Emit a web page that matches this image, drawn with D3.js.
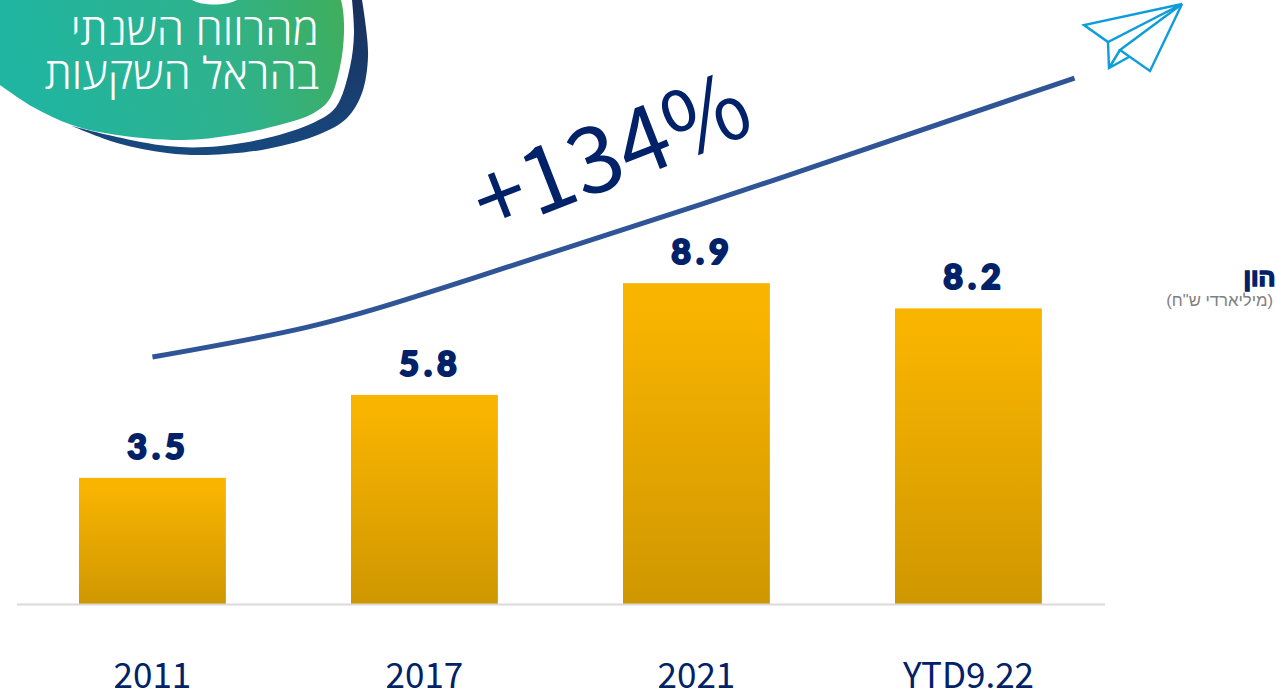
<!DOCTYPE html>
<html>
<head>
<meta charset="utf-8">
<script src="https://cdn.jsdelivr.net/npm/d3@7"></script>
<style>
	html, body { margin: 0; padding: 0; background: #fff; overflow: hidden; }
</style>
</head>
<body>
<div class="chart"></div>
<script>
var categories = ['2011', '2017', '2021', 'YTD9.22'];
var values = [3.5, 5.8, 8.9, 8.2];
var valueLabels = ['3.5', '5.8', '8.9', '8.2'];

// trend line: category position / value height
var trendPos = [0, 0.57, 1.18, 2.31, 3.39];
var trendVal = [6.85, 7.68, 9.04, 11.82, 14.59];

var titleLines = ['מהרווח השנתי', 'בהראל השקעות'];
var growthLabel = '+134%';
var sideTitle = 'הון';
var sideUnit = '(מיליארדי ש"ח)';

var navy = '#012169',
	lineBlue = '#2f5597',
	planeBlue = '#0d9ddb',
	width = 1276,
	height = 695;

var svg = d3.select('.chart').append('svg')
	.attr('width', width)
	.attr('height', height)
	.style('display', 'block');

var defs = svg.append('defs');
var barGrad = defs.append('linearGradient')
	.attr('id', 'barGrad').attr('x1', 0).attr('y1', 0).attr('x2', 0).attr('y2', 1);
barGrad.append('stop').attr('offset', '8%').attr('stop-color', '#f9b400');
barGrad.append('stop').attr('offset', '100%').attr('stop-color', '#cf9700');

var blobGrad = defs.append('linearGradient')
	.attr('id', 'blobGrad').attr('gradientUnits', 'userSpaceOnUse')
	.attr('x1', 40).attr('y1', 110).attr('x2', 345).attr('y2', 10);
blobGrad.append('stop').attr('offset', '0%').attr('stop-color', '#20b5a0');
blobGrad.append('stop').attr('offset', '60%').attr('stop-color', '#2fb28c');
blobGrad.append('stop').attr('offset', '100%').attr('stop-color', '#3fae5c');

var shadowGrad = defs.append('linearGradient')
	.attr('id', 'shadowGrad').attr('x1', 0).attr('y1', 0).attr('x2', 0).attr('y2', 1);
shadowGrad.append('stop').attr('offset', '0%').attr('stop-color', '#1a2f5a');
shadowGrad.append('stop').attr('offset', '100%').attr('stop-color', '#17497f');

var x = d3.scaleBand().domain(categories).range([16.44, 1104.44]).paddingInner(0.46).paddingOuter(0.23);
var y = d3.scaleLinear().domain([0, 10]).range([604, 243.5]);

// Header blob, drawn as smooth outlines
var outline = d3.line().curve(d3.curveCatmullRom);
var shadowOuter = [[72, 126], [117, 143], [167, 153], [207, 155], [267, 149], [320, 134], [347, 118], [362, 93], [368, 57], [365, 20], [362, 0]];
var shadowInner = [[352, 0], [354, 33], [350, 67], [336, 107], [315, 122], [267, 138], [207, 147], [167, 146], [117, 137], [72, 126]];
var blobEdge = [[0, 85], [33, 107], [72, 125], [117, 135], [183, 140], [233, 135], [283, 124], [312, 114], [329, 100], [340, 67], [344, 33], [343, 10], [341, 0]];

svg.append('path')
	.attr('fill', 'url(#shadowGrad)')
	.attr('d', outline(shadowOuter) + 'L' + outline(shadowInner).slice(1) + 'Z');
svg.append('path')
	.attr('fill', 'url(#blobGrad)')
	.attr('d', outline(blobEdge) + 'L0,0Z');
svg.append('path')
	.attr('fill', '#fff')
	.attr('d', 'M192,0 C202,6 226,6 237,0 Z');

svg.selectAll('.title-line')
	.data(titleLines)
	.enter().append('text')
	.attr('class', 'title-line')
	.attr('x', 319)
	.attr('y', function(d, i) { return 45 + i * 44; })
	.attr('text-anchor', 'start')
	.attr('direction', 'rtl')
	.attr('font-family', '"Open Sans", "Liberation Sans", sans-serif')
	.attr('font-weight', 300)
	.attr('font-size', '44px')
	.attr('fill', '#fff')
	.text(function(d) { return d; });

// Bars
svg.selectAll('.bar')
	.data(values)
	.enter().append('rect')
	.attr('class', 'bar')
	.attr('x', function(d, i) { return x(categories[i]); })
	.attr('y', function(d) { return y(d); })
	.attr('width', x.bandwidth())
	.attr('height', function(d) { return y(0) - y(d); })
	.attr('fill', 'url(#barGrad)');

svg.selectAll('.value')
	.data(values)
	.enter().append('text')
	.attr('class', 'value')
	.attr('x', function(d, i) { return x(categories[i]) + x.bandwidth() / 2 + 6; })
	.attr('y', function(d) { return y(d) - 19; })
	.attr('text-anchor', 'middle')
	.attr('font-family', 'Lato, sans-serif')
	.attr('font-weight', 900)
	.attr('font-size', '34px')
	.attr('letter-spacing', '5px')
	.attr('fill', navy)
	.attr('stroke', navy)
	.attr('stroke-width', 2)
	.attr('stroke-linejoin', 'round')
	.text(function(d, i) { return valueLabels[i]; });

// Axis
var xAxis = svg.append('g')
	.attr('transform', 'translate(0,' + y(0) + ')')
	.call(d3.axisBottom(x).tickSize(0).tickPadding(59));
xAxis.select('.domain').attr('stroke', '#d9d9d9').attr('stroke-width', 2);
xAxis.selectAll('text')
	.attr('font-family', '"Noto Sans CJK JP", sans-serif')
	.attr('font-size', '35px')
	.attr('fill', navy);

// Trend line
var trendX = d3.scaleLinear().domain([0, 3]).range([x(categories[0]) + x.bandwidth() / 2, x(categories[3]) + x.bandwidth() / 2]);
var trend = d3.line()
	.x(function(d) { return trendX(d[0]); })
	.y(function(d) { return y(d[1]); })
	.curve(d3.curveNatural);
svg.append('path')
	.datum(d3.zip(trendPos, trendVal))
	.attr('fill', 'none')
	.attr('stroke', lineBlue)
	.attr('stroke-width', 5)
	.attr('d', trend);

svg.append('text')
	.attr('transform', 'translate(488,236) rotate(-21.3)')
	.attr('font-family', '"Noto Sans CJK JP", sans-serif')
	.attr('font-size', '92px')
	.attr('font-weight', 400)
	.attr('fill', navy)
	.text(growthLabel);

// Paper plane
var plane = svg.append('g')
	.attr('fill', 'none')
	.attr('stroke', planeBlue)
	.attr('stroke-width', 2.4);
plane.append('path').attr('d', 'M1182,4 L1084,25 L1108,42 Z');
plane.append('path').attr('d', 'M1182,4 L1150,71 L1120,50 Z');
plane.append('path').attr('d', 'M1108,42 L1109,68 L1129,57 M1109,68 L1120,50');

// Side label
svg.append('text')
	.attr('x', 1275.5).attr('y', 286)
	.attr('text-anchor', 'start').attr('direction', 'rtl')
	.attr('font-family', '"Liberation Sans", sans-serif')
	.attr('font-weight', 700)
	.attr('font-size', '25px')
	.attr('fill', navy)
	.attr('stroke', navy)
	.attr('stroke-width', 1.6)
	.text(sideTitle);
svg.append('text')
	.attr('x', 1273).attr('y', 306)
	.attr('text-anchor', 'start').attr('direction', 'rtl')
	.attr('font-family', '"Liberation Sans", sans-serif')
	.attr('font-size', '16.7px')
	.attr('fill', '#7f7f7f')
	.text(sideUnit);
</script>
</body>
</html>
